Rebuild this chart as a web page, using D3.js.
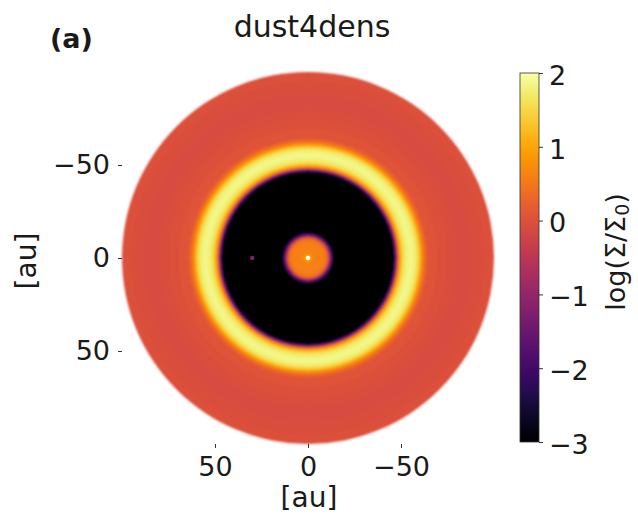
<!DOCTYPE html>
<html>
<head>
<meta charset="utf-8">
<script src="https://cdn.jsdelivr.net/npm/d3@7"></script>
<style>
  html, body { margin: 0; padding: 0; background: #fff; }
  svg { display: block; }
  text { font-family: "DejaVu Sans", sans-serif; fill: #1a1a1a; }
</style>
</head>
<body>
<svg id="chart" width="638" height="517"></svg>
<script>
// Azimuthally averaged dust surface density, log10(Sigma/Sigma0), in radial bins.
// binOuter[i] is the outer radius (au) of bin i; logSigma[i] is its value.
const binOuter = [
  1, 2, 3, 4, 5, 6, 7, 8, 9, 10,
  11, 12, 13, 14, 46, 47, 48, 49, 50, 51,
  52, 53, 54, 55, 56, 57, 58, 59, 60, 61,
  62, 63, 64, 65, 70, 75, 80, 88, 95, 100
];
const logSigma = [
  1.2, 0.85, 0.7, 0.62, 0.6, 0.6, 0.6, 0.6, 0.58, 0.5,
  0.25, -0.6, -1.7, -2.7, -3.5, -2.4, -1.1, 0.3, 0.95, 1.35,
  1.6, 1.72, 1.8, 1.85, 1.85, 1.82, 1.75, 1.62, 1.4, 1.05,
  0.7, 0.42, 0.22, 0.1, 0.04, -0.02, -0.06, -0.09, -0.06, -0.03
];

// Point sources: the central star and the embedded planet (x, y in au).
const pointX = [0, 30];
const pointY = [0, 0];
const pointR = [1.2, 1.2];
const pointLog = [2.0, -1.3];

const axisTicks = [50, 0, -50];
const cbTicks = [2, 1, 0, -1, -2, -3];
const cbDomain = [-3, 2];

const svg = d3.select("#chart");
const defs = svg.append("defs");

// Axes run from +100 to -100 au in both directions (x flipped, y downward-positive)
const x = d3.scaleLinear().domain([100, -100]).range([122, 494]);
const y = d3.scaleLinear().domain([-100, 100]).range([72, 444]);
const rPx = r => Math.abs(x(0) - x(r));

const color = d3.scaleSequential(d3.interpolateInferno).domain(cbDomain).clamp(true);

// Disk: filled circles painted from the outermost bin inward (no seams between rings)
defs.append("filter").attr("id", "soft")
  .attr("x", "-5%").attr("y", "-5%").attr("width", "110%").attr("height", "110%")
  .append("feGaussianBlur").attr("stdDeviation", 0.9);

const rings = binOuter.map((r, i) => ({ r, v: logSigma[i] })).reverse();
const disk = svg.append("g").attr("filter", "url(#soft)");
disk.selectAll("circle.ring")
  .data(rings)
  .join("circle")
  .attr("class", "ring")
  .attr("cx", x(0))
  .attr("cy", y(0))
  .attr("r", d => rPx(d.r))
  .attr("fill", d => color(d.v));

svg.append("g").selectAll("circle.src")
  .data(pointX.map((px, i) => ({ px, py: pointY[i], r: pointR[i], v: pointLog[i] })))
  .join("circle")
  .attr("class", "src")
  .attr("cx", d => x(d.px))
  .attr("cy", d => y(d.py))
  .attr("r", d => rPx(d.r))
  .attr("fill", d => d.v >= 2 ? "#ffffff" : color(d.v));

// Axes (no spines)
const fontTick = 27;
const xAxis = svg.append("g")
  .attr("transform", `translate(0,${y(100)})`)
  .call(d3.axisBottom(x).tickValues(axisTicks).tickSize(4).tickPadding(9));
const yAxis = svg.append("g")
  .attr("transform", `translate(${x(100)},0)`)
  .call(d3.axisLeft(y).tickValues(axisTicks).tickSize(4).tickPadding(8));
[xAxis, yAxis].forEach(g => {
  g.select(".domain").remove();
  g.selectAll(".tick line").attr("stroke", "#333").attr("stroke-width", 1);
  g.selectAll(".tick text")
    .style("font-family", "'DejaVu Sans', sans-serif")
    .style("font-size", fontTick + "px")
    .attr("fill", "#1a1a1a");
});

svg.append("text")
  .attr("x", 309).attr("y", 507)
  .attr("text-anchor", "middle")
  .style("font-size", "28px")
  .text("[au]");

svg.append("text")
  .attr("transform", "translate(36,261) rotate(-90)")
  .attr("text-anchor", "middle")
  .style("font-size", "28px")
  .text("[au]");

// Title and panel tag
svg.append("text")
  .attr("x", 312).attr("y", 37)
  .attr("text-anchor", "middle")
  .style("font-size", "30px")
  .text("dust4dens");

svg.append("text")
  .attr("x", 50).attr("y", 48)
  .style("font-size", "27px")
  .style("font-weight", "bold")
  .text("(a)");

// Colorbar
const cbX = 520, cbW = 19;
const cbY = d3.scaleLinear().domain(cbDomain).range([442, 73]);
const grad = defs.append("linearGradient")
  .attr("id", "cbgrad")
  .attr("x1", 0).attr("y1", 1).attr("x2", 0).attr("y2", 0);
d3.range(0, 1.0001, 0.02).forEach(t => {
  grad.append("stop")
    .attr("offset", t)
    .attr("stop-color", color(cbDomain[0] + t * (cbDomain[1] - cbDomain[0])));
});
svg.append("rect")
  .attr("x", cbX).attr("y", cbY(2))
  .attr("width", cbW).attr("height", cbY(-3) - cbY(2))
  .attr("fill", "url(#cbgrad)")
  .attr("stroke", "#333").attr("stroke-width", 0.8);

const cbAxis = svg.append("g")
  .attr("transform", `translate(${cbX + cbW},0)`)
  .call(d3.axisRight(cbY).tickValues(cbTicks).tickSize(4).tickPadding(6).tickFormat(d3.format("d")));
cbAxis.select(".domain").remove();
cbAxis.selectAll(".tick line").attr("stroke", "#333");
cbAxis.selectAll(".tick text")
  .style("font-family", "'DejaVu Sans', sans-serif")
  .style("font-size", fontTick + "px")
  .attr("dy", "0.42em")
  .attr("fill", "#1a1a1a");

const cbLabel = svg.append("text")
  .attr("transform", "translate(625,252) rotate(-90)")
  .attr("text-anchor", "middle")
  .style("font-size", "27px");
cbLabel.append("tspan").text("log(Σ/Σ");
cbLabel.append("tspan").attr("baseline-shift", "-20%").style("font-size", "19px").text("0");
cbLabel.append("tspan").text(")");
</script>
</body>
</html>
